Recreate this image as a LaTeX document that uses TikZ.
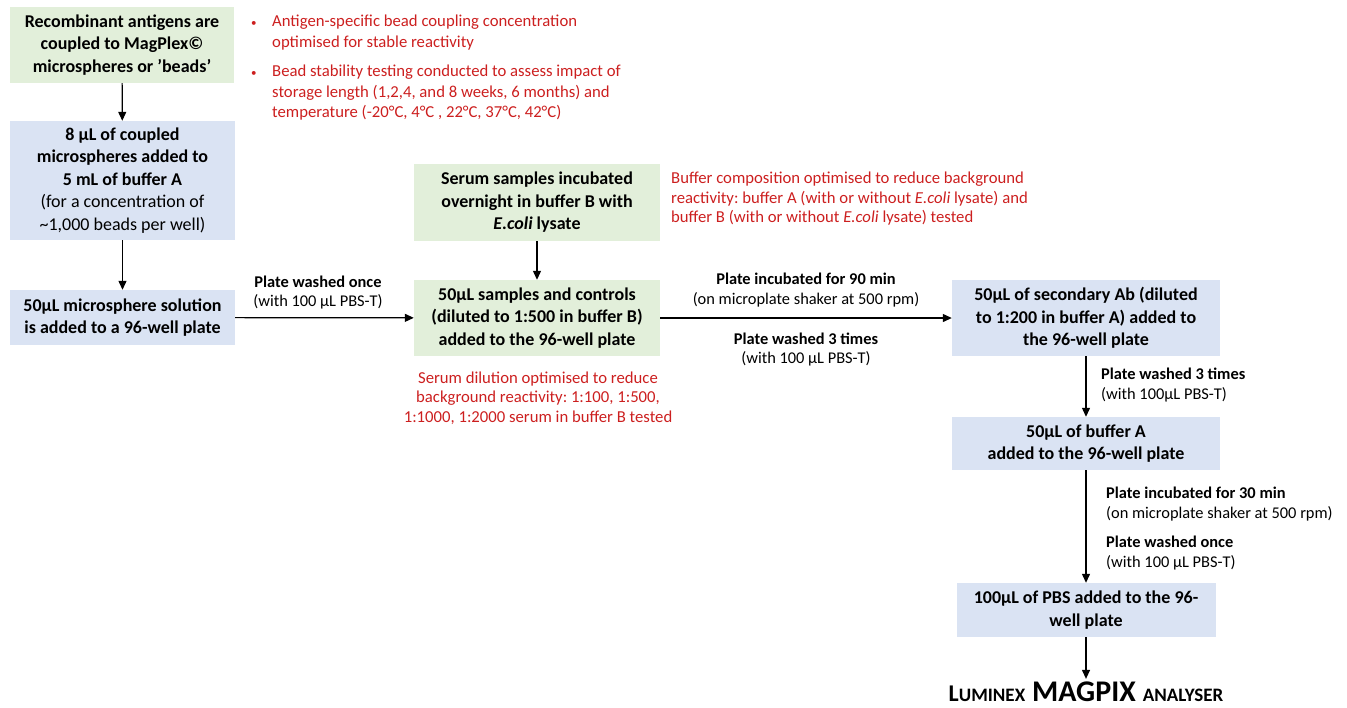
\documentclass[tikz,border=0pt]{standalone}
\usepackage{fontspec}
\setmainfont{Carlito}
\frenchspacing
\usetikzlibrary{positioning,arrows.meta}
\definecolor{stepgreen}{HTML}{E2EFDA}
\definecolor{stepblue}{HTML}{DAE3F3}
\definecolor{optred}{HTML}{CC1F1F}

\tikzset{
  stage/.style={inner sep=0pt,align=center,font=\fontsize{18}{22.5}\selectfont\bfseries},
  greenbox/.style={stage,fill=stepgreen},
  bluebox/.style={stage,fill=stepblue},
  optnote/.style={inner sep=0pt,text=optred,font=\fontsize{16.7}{19.5}\selectfont},
  washlabel/.style={inner sep=0pt,font=\fontsize{16.4}{19.5}\selectfont},
  flow/.style={-{Triangle[length=9pt,width=8pt]},line width=1.2pt},
}

\begin{document}
\begin{tikzpicture}[x=1pt,y=-1pt]
    \useasboundingbox (0,0) rectangle (1347,707);
    % --- left column: bead preparation ---
    \node[greenbox,minimum width=224pt,minimum height=76pt] (couple) at (122,45) {Recombinant antigens are\\coupled to MagPlex©\\microspheres or ’beads’};
    \node[bluebox,minimum width=225pt,minimum height=119pt] (dilute) at (122.5,180.5) {8 µL of coupled\\microspheres added to\\5 mL of buffer A\\\mdseries (for a concentration of\\\mdseries\textasciitilde1,000 beads per well)};
    \node[bluebox,minimum width=225pt,minimum height=55pt] (plate) at (122.5,317.5) {50µL microsphere solution\\is added to a 96-well plate};
    % optimisation notes
    \node[optnote,anchor=west] (beadnote) at (251,68) {\fontsize{16.7}{20.5}\selectfont\begin{tabular}{@{}p{21pt}@{}l@{}}
      {\fontsize{11}{11}\selectfont\textbullet} & Antigen-specific bead coupling concentration\\
      & optimised for stable reactivity\\[9pt]
      {\fontsize{11}{11}\selectfont\textbullet} & Bead stability testing conducted to assess impact of\\
      & storage length (1,2,4, and 8 weeks, 6 months) and\\
      & temperature (-20°C, 4°C , 22°C, 37°C, 42°C)
    \end{tabular}};
    % --- middle column: serum ---
    \node[greenbox,minimum width=246pt,minimum height=77pt] (serum) at (537,202.5) {Serum samples incubated\\overnight in buffer B with\\\textit{E.coli} lysate};
    \node[greenbox,minimum width=246pt,minimum height=76pt] (samples) at (537,318) {50µL samples and controls\\(diluted to 1:500 in buffer B)\\added to the 96-well plate};
    \node[optnote,anchor=west,align=left] (buffernote) at (671,199) {Buffer composition optimised to reduce background\\reactivity: buffer A (with or without \textit{E.coli} lysate) and\\buffer B (with or without \textit{E.coli} lysate) tested};
    \node[optnote,align=center] (serumnote) at (538,398) {Serum dilution optimised to reduce\\background reactivity: 1:100, 1:500,\\1:1000, 1:2000 serum in buffer B tested};
    % --- right column: detection ---
    \node[bluebox,minimum width=268pt,minimum height=76pt] (secondary) at (1086,318) {50µL of secondary Ab (diluted\\to 1:200 in buffer A) added to\\the 96-well plate};
    \node[bluebox,minimum width=268pt,minimum height=53pt] (bufferA) at (1086,443.5) {50µL of buffer A\\added to the 96-well plate};
    \node[bluebox,minimum width=259pt,minimum height=54pt] (pbs) at (1086,610) {100µL of PBS added to the 96-\\well plate};
    \node[inner sep=0pt,font=\bfseries] (magpix) at (1086,692) {{\fontsize{24}{24}\selectfont L}{\fontsize{19}{19}\selectfont UMINEX}\hspace{7pt}{\fontsize{30}{30}\selectfont MAGPIX}\hspace{7pt}{\fontsize{19}{19}\selectfont ANALYSER}};
    % step labels
    \node[washlabel,align=center] (washone) at (318,292.5) {\bfseries Plate washed once\\(with 100 µL PBS-T)};
    \node[washlabel,align=center] (incubone) at (806,290) {\bfseries Plate incubated for 90 min\\(on microplate shaker at 500 rpm)};
    \node[washlabel,align=center] (washthree) at (806,349.5) {\bfseries Plate washed 3 times\\(with 100 µL PBS-T)};
    \node[washlabel,align=left,anchor=west] (washtwo) at (1101,385) {\bfseries Plate washed 3 times\\(with 100µL PBS-T)};
    \node[washlabel,align=left,anchor=west] (incubtwo) at (1106,504) {\bfseries Plate incubated for 30 min\\(on microplate shaker at 500 rpm)};
    \node[washlabel,align=left,anchor=west] (washlast) at (1106,553) {\bfseries Plate washed once\\(with 100 µL PBS-T)};
    % connectors
    \draw[flow] (couple) -- (dilute);
    \draw[flow] (dilute) -- (plate);
    \draw[flow] (plate) -- (samples);
    \draw[flow] (serum) -- (samples);
    \draw[flow] (samples) -- (secondary);
    \draw[flow] (secondary) -- (bufferA);
    \draw[flow] (bufferA) -- (pbs);
    \draw[flow] (pbs) -- ([yshift=3pt]magpix.north);
\end{tikzpicture}
\end{document}
